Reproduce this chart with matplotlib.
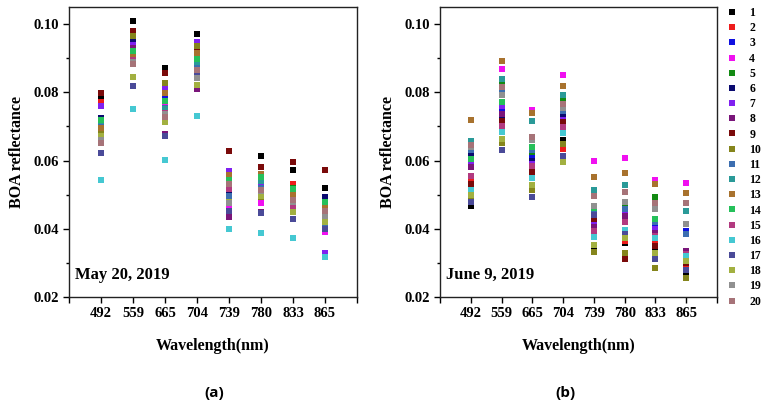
import numpy as np
import matplotlib
matplotlib.use('Agg')
import matplotlib.pyplot as plt
from matplotlib.ticker import MultipleLocator

# ── Data: BOA reflectance per band (rows) for samples 1..20 (columns) ─────
bands = ['492', '559', '665', '704', '739', '780', '833', '865']
samples = [str(i) for i in range(1, 21)]

may20 = [
    [0.0782, 0.0772, 0.0700, 0.0690, 0.0712, 0.0726, 0.0760, 0.0695, 0.0797, 0.0680,
     0.0705, 0.0715, 0.0695, 0.0718, 0.0670, 0.0544, 0.0622, 0.0672, 0.0660, 0.0652],
    [0.1010, 0.0945, 0.0935, 0.0925, 0.0915, 0.0951, 0.0938, 0.0930, 0.0980, 0.0965,
     0.0905, 0.0898, 0.0908, 0.0920, 0.0895, 0.0752, 0.0818, 0.0845, 0.0890, 0.0884],
    [0.0870, 0.0800, 0.0790, 0.0760, 0.0775, 0.0815, 0.0810, 0.0678, 0.0856, 0.0828,
     0.0755, 0.0750, 0.0797, 0.0775, 0.0740, 0.0602, 0.0672, 0.0712, 0.0735, 0.0728],
    [0.0972, 0.0905, 0.0910, 0.0895, 0.0902, 0.0928, 0.0948, 0.0809, 0.0923, 0.0935,
     0.0880, 0.0888, 0.0915, 0.0898, 0.0860, 0.0731, 0.0850, 0.0822, 0.0843, 0.0866],
    [0.0540, 0.0545, 0.0500, 0.0470, 0.0550, 0.0505, 0.0569, 0.0435, 0.0628, 0.0556,
     0.0497, 0.0535, 0.0558, 0.0543, 0.0516, 0.0400, 0.0453, 0.0480, 0.0476, 0.0531],
    [0.0612, 0.0560, 0.0525, 0.0476, 0.0548, 0.0531, 0.0530, 0.0450, 0.0582, 0.0492,
     0.0520, 0.0540, 0.0560, 0.0552, 0.0505, 0.0389, 0.0447, 0.0495, 0.0512, 0.0515],
    [0.0572, 0.0530, 0.0500, 0.0470, 0.0520, 0.0495, 0.0490, 0.0460, 0.0597, 0.0455,
     0.0485, 0.0510, 0.0503, 0.0518, 0.0463, 0.0374, 0.0430, 0.0450, 0.0480, 0.0485],
    [0.0520, 0.0470, 0.0450, 0.0390, 0.0485, 0.0492, 0.0330, 0.0400, 0.0572, 0.0425,
     0.0410, 0.0460, 0.0468, 0.0480, 0.0440, 0.0318, 0.0400, 0.0420, 0.0438, 0.0453],
]

june9 = [
    [0.0467, 0.0540, 0.0620, 0.0555, 0.0610, 0.0622, 0.0592, 0.0580, 0.0532, 0.0495,
     0.0630, 0.0657, 0.0718, 0.0605, 0.0556, 0.0513, 0.0478, 0.0500, 0.0640, 0.0645],
    [0.0690, 0.0710, 0.0747, 0.0868, 0.0826, 0.0722, 0.0760, 0.0735, 0.0715, 0.0650,
     0.0801, 0.0840, 0.0891, 0.0771, 0.0701, 0.0683, 0.0632, 0.0662, 0.0791, 0.0815],
    [0.0590, 0.0580, 0.0615, 0.0748, 0.0625, 0.0600, 0.0590, 0.0580, 0.0566, 0.0515,
     0.0632, 0.0716, 0.0738, 0.0640, 0.0585, 0.0549, 0.0494, 0.0528, 0.0660, 0.0670],
    [0.0661, 0.0635, 0.0735, 0.0851, 0.0778, 0.0728, 0.0720, 0.0705, 0.0713, 0.0649,
     0.0745, 0.0791, 0.0818, 0.0760, 0.0698, 0.0680, 0.0612, 0.0596, 0.0753, 0.0767],
    [0.0350, 0.0420, 0.0440, 0.0598, 0.0450, 0.0435, 0.0410, 0.0406, 0.0429, 0.0331,
     0.0450, 0.0515, 0.0551, 0.0460, 0.0395, 0.0377, 0.0440, 0.0352, 0.0468, 0.0497],
    [0.0357, 0.0365, 0.0385, 0.0607, 0.0470, 0.0450, 0.0440, 0.0438, 0.0311, 0.0330,
     0.0458, 0.0529, 0.0564, 0.0480, 0.0420, 0.0396, 0.0385, 0.0374, 0.0478, 0.0507],
    [0.0340, 0.0360, 0.0410, 0.0543, 0.0494, 0.0395, 0.0400, 0.0389, 0.0350, 0.0285,
     0.0420, 0.0470, 0.0531, 0.0430, 0.0380, 0.0373, 0.0311, 0.0330, 0.0458, 0.0477],
    [0.0268, 0.0292, 0.0395, 0.0533, 0.0320, 0.0385, 0.0310, 0.0336, 0.0300, 0.0255,
     0.0385, 0.0452, 0.0504, 0.0315, 0.0325, 0.0320, 0.0280, 0.0305, 0.0414, 0.0477],
]

colors = ['#000000', '#ee1c1c', '#1010e0', '#f010f0', '#138a13', '#0a0a70',
          '#8020f0', '#7a157a', '#7a0a0a', '#85851c', '#3c6eb0', '#2a9a98',
          '#a8722e', '#25c05a', '#b23a80', '#45c8d2', '#4a4a98', '#a2b040',
          '#909090', '#a67378']

plt.rcParams['font.family'] = ['Liberation Serif', 'DejaVu Serif']

fig = plt.figure(figsize=(7.71, 4.12), dpi=100)
ax1 = fig.add_axes([0.0895, 0.279, 0.3735, 0.704])
ax2 = fig.add_axes([0.5707, 0.279, 0.3593, 0.704])

x = np.arange(1, len(bands) + 1)

for ax, data, tag in [(ax1, may20, 'May 20, 2019'), (ax2, june9, 'June 9, 2019')]:
    arr = np.array(data)
    for j, lab in enumerate(samples):
        ax.plot(x, arr[:, j], 's', ms=4.6, mew=0, color=colors[j], label=lab)
    ax.set_xlim(0, 9)
    ax.set_ylim(0.02, 0.105)
    ax.set_xticks(range(0, 10))
    ax.set_xticklabels([''] + bands + [''])
    ax.yaxis.set_major_locator(MultipleLocator(0.02))
    ax.yaxis.set_minor_locator(MultipleLocator(0.01))
    ax.tick_params(direction='out', length=4, width=1, labelsize=10.5, pad=3)
    ax.tick_params(which='minor', direction='out', length=2.5, width=1)
    for lbl in ax.get_xticklabels() + ax.get_yticklabels():
        lbl.set_fontweight('bold')
    ax.set_xlabel('Wavelength(nm)', fontsize=11.5, fontweight='bold', labelpad=13)
    ax.set_ylabel('BOA reflectance', fontsize=11.5, fontweight='bold', labelpad=6)
    ax.text(0.02, 0.075, tag, transform=ax.transAxes, fontsize=12,
            fontweight='bold', va='center', ha='left')
    for s in ax.spines.values():
        s.set_linewidth(1.0)
        s.set_color('#222222')

handles, labels = ax2.get_legend_handles_labels()
fig.legend(handles, labels, loc='upper left', bbox_to_anchor=(0.935, 1.0),
           frameon=False, prop={'weight': 'bold', 'size': 8.5},
           handlelength=0.6, handletextpad=1.2, labelspacing=0.27,
           markerscale=0.8, borderaxespad=0.2)

fig.text(214 / 771, 1 - 393 / 412, '(a)', fontsize=11, fontweight='bold',
         ha='center', va='center', family='Open Sans')
fig.text(565 / 771, 1 - 393 / 412, '(b)', fontsize=11, fontweight='bold',
         ha='center', va='center', family='Open Sans')

fig.savefig('out.png', dpi=100)
